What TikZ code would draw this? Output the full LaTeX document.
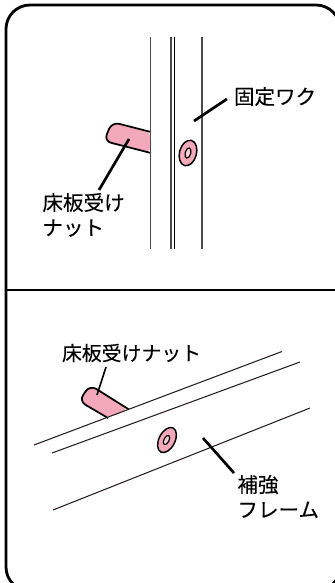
\documentclass[tikz,border=0pt]{standalone}
\usepackage{fontspec}
\newfontfamily\jpfont[FakeBold=0.15]{Noto Sans CJK JP}
\definecolor{nutpink}{HTML}{F4A9BB}
\definecolor{railgrey}{HTML}{4A4A4A}
\definecolor{beamline}{HTML}{2A2020}
\tikzset{
  frameline/.style={draw=black,line width=2.1pt},
  leader/.style={draw=black,line width=2pt},
  thinleader/.style={draw=black,line width=1.2pt},
  rail/.style={draw=railgrey,line width=1.25pt},
  railthin/.style={draw=black,line width=0.9pt},
  beam/.style={draw=beamline,line width=0.8pt},
  nutbody/.style={fill=nutpink,draw=none},
  nutedge/.style={draw=black,line width=1.3pt,rounded corners=5.5pt},
  washer/.style={draw=black,line width=1.1pt,fill=nutpink},
  hole/.style={draw=black,line width=0.9pt,fill=nutpink!55},
  lbl/.style={inner sep=0pt,outer sep=0pt,align=left,font=\jpfont\fontsize{15.4}{18.75}\selectfont},
  lblsmall/.style={inner sep=0pt,outer sep=0pt,align=left,font=\jpfont\fontsize{14.9}{18.75}\selectfont}
}
\begin{document}
\begin{tikzpicture}[x=0.75pt,y=-0.75pt]
\useasboundingbox (0,0) rectangle (335,583);
\clip (0,0) rectangle (335,583);
% frame
\draw[frameline,rounded corners=18pt] (6,5) rectangle (340,591);
\coordinate (divL) at (6,290);
\coordinate (divR) at (335,290);
\draw[frameline] (divL) -- (divR);
% upper: nut
\fill[nutbody,rounded corners=5.5pt] (151,132) -- (112,122) -- (104,141) -- (151,153) -- cycle;
\draw[nutedge] (151,132) -- (112,122) -- (104,141) -- (151,153);
% upper: rails
\draw[rail] (150.5,37) -- (150.5,249);
\draw[rail] (171,37) -- (171,249);
\draw[railthin] (174.5,37) -- (174.5,249);
\draw[rail] (202,37) -- (202,249);
% upper: washer
\draw[washer,rotate around={-15:(188,153)}] (188,153) ellipse [x radius=8.5,y radius=13];
\draw[hole,rotate around={-15:(188,153)}] (188,153) ellipse [x radius=2.8,y radius=5.2];
% upper: labels
\node[lbl,anchor=west] (lfix) at (234,96.5) {固定ワク};
\node[lbl,anchor=north west] (lnut1) at (42.5,193) {床板受け\\ナット};
\coordinate (fixa) at (194,121);
\coordinate (fixb) at (227,99);
\draw[leader] (fixa) -- (fixb);
\coordinate (nut1a) at (129,139);
\coordinate (nut1b) at (99,190);
\draw[leader] (nut1a) -- (nut1b);
% lower: nut
\fill[nutbody,rounded corners=5.5pt] (129,409.5) -- (90,385) -- (79,401) -- (108,418) -- cycle;
\draw[nutedge] (129,409.5) -- (90,385) -- (79,401) -- (108,418);
% lower: beam lines
\draw[beam] (34,445) -- (282,351.5);
\draw[beam] (52,453) -- (300,362);
\draw[beam] (53,510) -- (310,408);
% lower: washer
\draw[washer,rotate around={-27:(167,440)}] (167,440) ellipse [x radius=8,y radius=13.5];
\draw[hole,rotate around={-27:(166.5,440)}] (166.5,440) ellipse [x radius=2.6,y radius=5];
% lower: labels
\node[lblsmall,anchor=west] (lnut2) at (62,353) {床板受けナット};
\node[lbl,anchor=north west] (lframe) at (237.5,475) {補強\\フレーム};
\coordinate (nut2a) at (106,367);
\coordinate (nut2b) at (97,395);
\draw[thinleader] (nut2a) -- (nut2b);
\coordinate (fra) at (203,438);
\coordinate (frb) at (234,473);
\draw[leader] (fra) -- (frb);
\end{tikzpicture}
\end{document}
